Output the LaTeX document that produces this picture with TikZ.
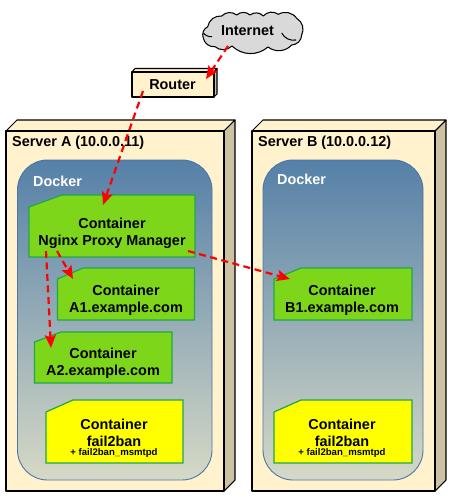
\documentclass[tikz,border=0pt]{standalone}
\usepackage{fontspec}
\setmainfont{Liberation Sans}
\usetikzlibrary{arrows.meta}
\definecolor{srvfill}{HTML}{FFF2CC}
\definecolor{srvside}{HTML}{CCC2A3}
\definecolor{dockertop}{HTML}{5580A8}
\definecolor{dockerbot}{HTML}{D6D9C6}
\definecolor{dockerline}{HTML}{4A76A8}
\definecolor{ctgreen}{HTML}{7ED61A}
\definecolor{ctline}{HTML}{1FA84A}
\definecolor{ctyel}{rgb}{1,1,0}
\tikzset{
  box/.style={draw=black,line width=1.05pt,line join=round},
  dockerbox/.style={draw=dockerline,line width=0.9pt,rounded corners=30pt,top color=dockertop,bottom color=dockerbot},
  ctbox/.style={draw=ctline,line width=1.2pt,fill=ctgreen},
  ctyellow/.style={draw=ctline,line width=1.2pt,fill=ctyel},
  lbl/.style={font=\bfseries\fontsize{14.4}{17}\selectfont,align=center,inner sep=0pt,text=black},
  small/.style={font=\bfseries\fontsize{9.6}{11}\selectfont,inner sep=0pt},
  arr/.style={draw=red,line width=2.2pt,dash pattern=on 7pt off 4.5pt,-{Stealth[length=13pt,width=11pt,inset=2.5pt]}},
  puff/.style={bend left=42},
}
\begin{document}
\begin{tikzpicture}[x=1pt,y=-1pt]
\useasboundingbox (0,0) rectangle (452,500);
\fill[white] (0,0) rectangle (452,500);
% Server A
\draw[box,fill=srvfill] (6,131) -- (17,120) -- (235,120) -- (224,131) -- cycle;
\draw[box,fill=srvside] (224,131) -- (235,120) -- (235,480) -- (224,491) -- cycle;
\draw[box,fill=srvfill] (6,131) rectangle (224,491);
\node[lbl,anchor=west] (serverA) at (12,142.5) {Server A (10.0.0.11)};
% Server B
\draw[box,fill=srvfill] (252,131) -- (263,120) -- (446,120) -- (435,131) -- cycle;
\draw[box,fill=srvside] (435,131) -- (446,120) -- (446,480) -- (435,491) -- cycle;
\draw[box,fill=srvfill] (252,131) rectangle (435,491);
\node[lbl,anchor=west] (serverB) at (258,142.5) {Server B (10.0.0.12)};
% Docker
\draw[dockerbox] (17.5,160) rectangle (212,480);
\node[lbl,anchor=west,text=white] (dockerA) at (33,181) {Docker};
\draw[dockerbox] (263,160) rectangle (423,480);
\node[lbl,anchor=west,text=white] (dockerB) at (277,179) {Docker};
% Containers
\draw[ctbox] (29,207) -- (62,195) -- (195,195) -- (195,257) -- (29,257) -- cycle;
\node[lbl] (nginx) at (112,233) {Container\\Nginx Proxy Manager};
\draw[ctbox] (57.5,279) -- (83,268) -- (194.5,268) -- (194.5,320) -- (57.5,320) -- cycle;
\node[lbl] (a1) at (126,300.5) {Container\\A1.example.com};
\draw[ctbox] (34.5,342) -- (61,332) -- (172,332) -- (172,383) -- (34.5,383) -- cycle;
\node[lbl] (a2) at (103,363) {Container\\A2.example.com};
\draw[ctyellow] (46,412) -- (73,400) -- (183,400) -- (183,463) -- (46,463) -- cycle;
\node[lbl] (fa) at (114,433) {Container\\fail2ban};
\node[small] (fas) at (114,453.5) {+ fail2ban\_msmtpd};
\draw[ctbox] (274,279) -- (301,268) -- (412,268) -- (412,320) -- (274,320) -- cycle;
\node[lbl] (b1) at (342,300.5) {Container\\B1.example.com};
\draw[ctyellow] (274,412) -- (301,400) -- (412,400) -- (412,463) -- (274,463) -- cycle;
\node[lbl] (fb) at (342,433) {Container\\fail2ban};
\node[small] (fbs) at (342,453.5) {+ fail2ban\_msmtpd};
% Router
\draw[box,fill=srvfill] (132,72) -- (135,68.5) -- (217,68.5) -- (214,72) -- cycle;
\draw[box,fill=srvside] (214,72) -- (217,68.5) -- (217,94) -- (214,97) -- cycle;
\draw[box,fill=srvfill] (132,72) rectangle (214,97);
\node[lbl] (router) at (172.5,84.5) {Router};
% Internet cloud
\draw[box,fill=black!15]
  (207.7,26.7) to[puff] (221.7,16) to[puff] (236.7,15) to[puff] (250,15) to[puff] (263.3,16)
  to[puff] (278.3,14.3) to[puff] (296.7,18.3) to[puff] (301.7,35) to[puff] (291.7,45)
  to[puff] (268,47) to[puff] (232,46) to[puff] (215,46.7) to[puff] (203.3,38) to[puff] (207.7,26.7) -- cycle;
\draw[box] (203.3,33) to[bend right=25] (212,36.7);
\draw[box] (281.7,33) to[bend right=35] (296,40);
\node[lbl] (internet) at (247.5,31) {Internet};
% Connectors
\draw[arr] ([shift={(-19.5,15)}]internet.center) -- ([shift={(33.5,-5.5)}]router.center);
\draw[arr] ([shift={(-29.5,6.5)}]router.center) -- ([shift={(-9,-28)}]nginx.center);
\draw[arr] ([shift={(-55,18)}]nginx.center) -- ([shift={(-53,-21.5)}]a1.center);
\draw[arr] ([shift={(-66,18)}]nginx.center) -- ([shift={(-52,-15)}]a2.center);
\draw[arr] ([shift={(76,18)}]nginx.center) -- ([shift={(-52,-21.5)}]b1.center);
\end{tikzpicture}
\end{document}
